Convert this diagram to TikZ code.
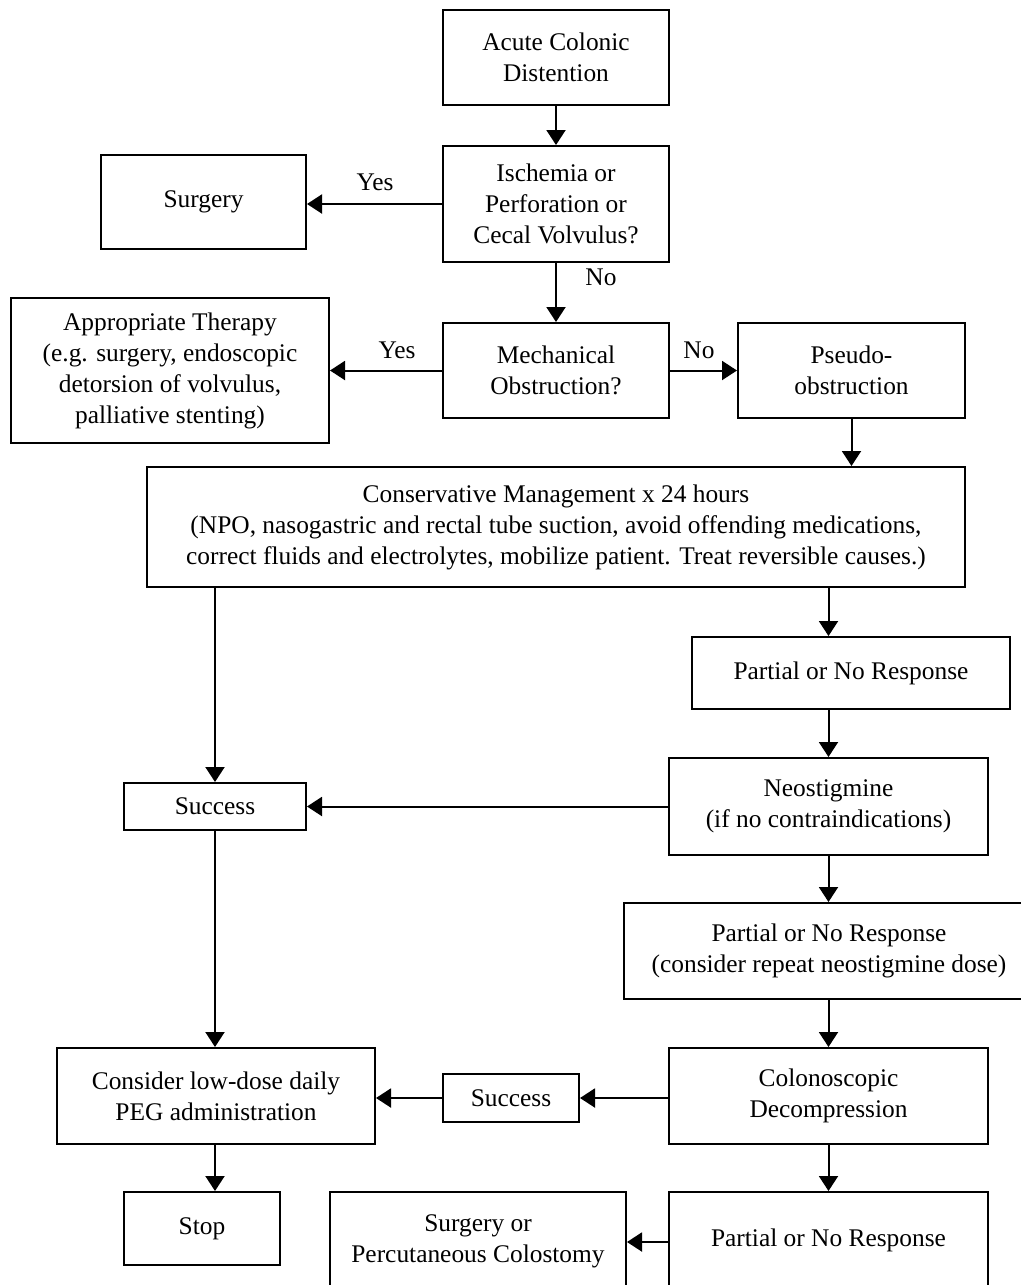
\documentclass[tikz,border=0pt]{standalone}
\usepackage{fontspec}
\setmainfont{Liberation Serif}
\usepackage{tikz}
\usetikzlibrary{arrows.meta, calc, positioning}

\begin{document}
\begin{tikzpicture}[x=0.5pt, y=-0.5pt,
  box/.style={draw, line width=1pt, inner sep=0pt, align=center, font=\fontsize{12.7}{15.5}\selectfont},
  lbl/.style={inner sep=0pt, font=\fontsize{12.7}{15.5}\selectfont},
  flow/.style={line width=1pt, -{Triangle[length=7.5pt, width=9.5pt]}}]
\useasboundingbox (0,0) rectangle (1021,1285);
\clip (0,0) rectangle (1021,1285);

% Top decisions
\node[box, minimum width=113pt, minimum height=47.5pt] (acute) at (556,57.5) {Acute Colonic\\Distention};
\node[box, minimum width=113pt, minimum height=58pt] (isch) at (556,204) {Ischemia or\\Perforation or\\Cecal Volvulus?};
\node[box, minimum width=102.5pt, minimum height=47pt] (surg) at (203.5,202) {Surgery};
\node[box, minimum width=113pt, minimum height=47.5pt] (mech) at (556,370.5) {Mechanical\\Obstruction?};
\node[box, minimum width=159pt, minimum height=72.5pt] (appr) at (170,370.5) {Appropriate Therapy\\(e.g. surgery, endoscopic\\detorsion of volvulus,\\palliative stenting)};
\node[box, minimum width=113.5pt, minimum height=47.5pt] (pseudo) at (851.5,370.5) {Pseudo-\\obstruction};

\draw[flow] (acute) -- (isch);
\draw[flow] (isch.west) -- (surg.east |- isch.west);
\node[lbl] (yes1) at (375,182) {Yes};
\draw[flow] (isch) -- (mech);
\node[lbl] (no1) at (601,277) {No};
\draw[flow] (mech.west) -- (appr.east |- mech.west);
\node[lbl] (yes2) at (397,350) {Yes};
\draw[flow] (mech.east) -- (pseudo.west);
\node[lbl] (no2) at (699,350) {No};

% Conservative management
\node[box, minimum width=409pt, minimum height=60pt] (cons) at (556,527) {Conservative Management x 24 hours\\(NPO, nasogastric and rectal tube suction, avoid offending medications,\\correct fluids and electrolytes, mobilize patient. Treat reversible causes.)};
\draw[flow] (pseudo) -- (pseudo |- cons.north);

% Right column
\node[box, minimum width=159pt, minimum height=36pt] (part1) at (851,673) {Partial or No Response};
\node[box, minimum width=159.5pt, minimum height=48.5pt] (neo) at (828.5,806.5) {Neostigmine\\(if no contraindications)};
\node[box, minimum width=205pt, minimum height=48pt] (part2) at (829,951) {Partial or No Response\\(consider repeat neostigmine dose)};
\node[box, minimum width=159.5pt, minimum height=48pt] (colon) at (828.5,1096) {Colonoscopic\\Decompression};
\node[box, minimum width=159.5pt, minimum height=48pt] (part3) at (828.5,1240) {Partial or No Response};

\draw[flow] (cons.south -| neo) -- (part1.north -| neo);
\draw[flow] (part1.south -| neo) -- (neo);
\draw[flow] (neo) -- (part2.north -| neo);
\draw[flow] (part2.south -| neo) -- (colon);
\draw[flow] (colon) -- (part3);

% Left column
\node[box, minimum width=91pt, minimum height=23.5pt] (succ1) at (215,806.5) {Success};
\node[box, minimum width=68pt, minimum height=24pt] (succ2) at (511,1098) {Success};
\node[box, minimum width=159pt, minimum height=48pt] (peg) at (216,1096) {Consider low-dose daily\\PEG administration};
\node[box, minimum width=78pt, minimum height=36.5pt] (stop) at (202,1228.5) {Stop};
\node[box, minimum width=148pt, minimum height=49pt] (surgcol) at (478,1241) {Surgery or\\Percutaneous Colostomy};

\draw[flow] (cons.south -| succ1) -- (succ1);
\draw[flow] (neo.west) -- (succ1.east);
\draw[flow] (succ1) -- (peg.north -| succ1);
\draw[flow] (colon.west |- succ2) -- (succ2.east);
\draw[flow] (succ2.west) -- (peg.east |- succ2);
\draw[flow] (peg.south -| succ1) -- (stop.north -| succ1);
\draw[flow] (part3.west |- 0,1242) -- (surgcol.east |- 0,1242);

\end{tikzpicture}
\end{document}
